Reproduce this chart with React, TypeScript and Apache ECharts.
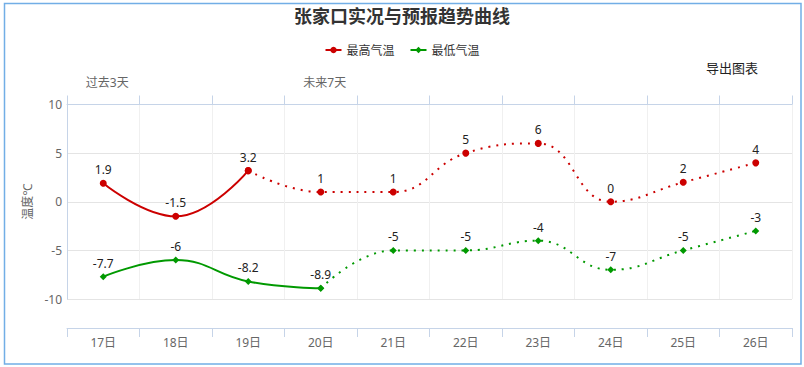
import React, { useEffect, useRef } from "react";
import * as echarts from "echarts";

const days = ["17日", "18日", "19日", "20日", "21日", "22日", "23日", "24日", "25日", "26日"];
const maxTemps = [1.9, -1.5, 3.2, 1, 1, 5, 6, 0, 2, 4];
const minTemps = [-7.7, -6, -8.2, -8.9, -5, -5, -4, -7, -5, -3];
const periodLabels = ["过去3天", "", "", "未来7天", "", "", "", "", "", ""];
const maxObservedCount = 3;
const minObservedCount = 4;
const yTicks = { min: -10, max: 10, interval: 5 };

const FONT = "'Noto Sans', 'Noto Sans CJK SC', sans-serif";
const RED = "#cc0000";
const GREEN = "#009900";
const AXIS = "#c6d4e8";

function splitSolid(values: number[], n: number) {
  return values.map((v, i) => (i < n ? v : null));
}
function splitDotted(values: number[], n: number) {
  return values.map((v, i) => (i >= n - 1 ? v : null));
}

function makeSeries(name: string, values: number[], n: number, color: string, symbol: string, size: number) {
  const label = {
    show: true,
    position: "top",
    distance: 4,
    color: "#222",
    fontSize: 12,
    fontFamily: FONT,
  };
  return [
    {
      name,
      type: "line",
      smooth: 0.45,
      data: splitSolid(values, n),
      symbol,
      symbolSize: size,
      itemStyle: { color },
      lineStyle: { color, width: 2, type: "solid" },
      label,
      z: 3,
    },
    {
      name,
      type: "line",
      smooth: 0.45,
      data: splitDotted(values, n),
      symbol,
      symbolSize: size,
      itemStyle: { color },
      lineStyle: { color, width: 2, type: [2, 6] },
      label: {
        ...label,
        formatter: (p: any) => (p.dataIndex === n - 1 ? "" : String(p.value)),
      },
      z: 3,
    },
  ];
}

export default function App() {
  const ref = useRef<HTMLDivElement>(null);
  useEffect(() => {
    if (!ref.current) return;
    const chart = echarts.init(ref.current, undefined, { renderer: "svg" });
    chart.setOption({
      animation: false,
      backgroundColor: "#ffffff",
      textStyle: { fontFamily: FONT },
      title: {
        text: "张家口实况与预报趋势曲线",
        left: "center",
        top: 7,
        padding: 0,
        textStyle: { fontSize: 18, fontWeight: "bold", color: "#333333", fontFamily: FONT },
      },
      legend: {
        data: ["最高气温", "最低气温"],
        top: 39,
        left: "center",
        itemWidth: 16,
        itemHeight: 8,
        itemGap: 15,
        textStyle: { fontSize: 12, color: "#333", fontFamily: FONT },
      },
      grid: { left: 67, right: 12, top: 104.5, bottom: 68, containLabel: false },
      xAxis: [
        {
          type: "category",
          data: days,
          position: "bottom",
          offset: 29,
          boundaryGap: true,
          axisLine: { show: true, onZero: false, lineStyle: { color: AXIS, width: 1 } },
          axisTick: { show: true, length: 9, alignWithLabel: false, lineStyle: { color: AXIS } },
          axisLabel: { color: "#666", fontSize: 12, margin: 8, fontFamily: FONT },
          splitLine: { show: true, lineStyle: { color: "#f0f0f0", width: 1 } },
        },
        {
          type: "category",
          data: periodLabels,
          position: "top",
          boundaryGap: true,
          axisLine: { show: true, onZero: false, lineStyle: { color: AXIS, width: 1 } },
          axisTick: { show: true, length: 9, interval: 0, lineStyle: { color: AXIS } },
          axisLabel: {
            color: "#666",
            fontSize: 12,
            margin: 16,
            interval: 0,
            padding: [0, 0, 0, 8],
            fontFamily: FONT,
          },
          splitLine: { show: false },
        },
      ],
      yAxis: {
        type: "value",
        min: yTicks.min,
        max: yTicks.max,
        interval: yTicks.interval,
        name: "温度℃",
        nameLocation: "middle",
        nameGap: 32,
        nameRotate: 90,
        nameTextStyle: { color: "#666", fontSize: 12, fontFamily: FONT },
        axisLine: { show: true, onZero: false, lineStyle: { color: AXIS, width: 1 } },
        axisTick: { show: false },
        axisLabel: { color: "#666", fontSize: 12, margin: 5, fontFamily: FONT },
        splitLine: { show: true, lineStyle: { color: "#e4e4e4", width: 1 } },
      },
      series: [
        ...makeSeries("最高气温", maxTemps, maxObservedCount, RED, "circle", 7),
        ...makeSeries("最低气温", minTemps, minObservedCount, GREEN, "diamond", 7),
      ],
      graphic: [
        {
          type: "rect",
          shape: { x: 4.5, y: 3.5, width: 796.5, height: 360.5 },
          style: { fill: "none", stroke: "#72aee6", lineWidth: 1.5 },
          silent: true,
        },
        {
          type: "text",
          x: 706,
          y: 68,
          style: {
            text: "导出图表",
            fill: "#222",
            fontSize: 13,
            fontFamily: FONT,
            verticalAlign: "middle",
          },
        },
      ],
    });
    return () => chart.dispose();
  }, []);
  return (
    <div
      ref={ref}
      style={{ position: "absolute", left: 0, top: 0, width: 804, height: 367 }}
    />
  );
}
